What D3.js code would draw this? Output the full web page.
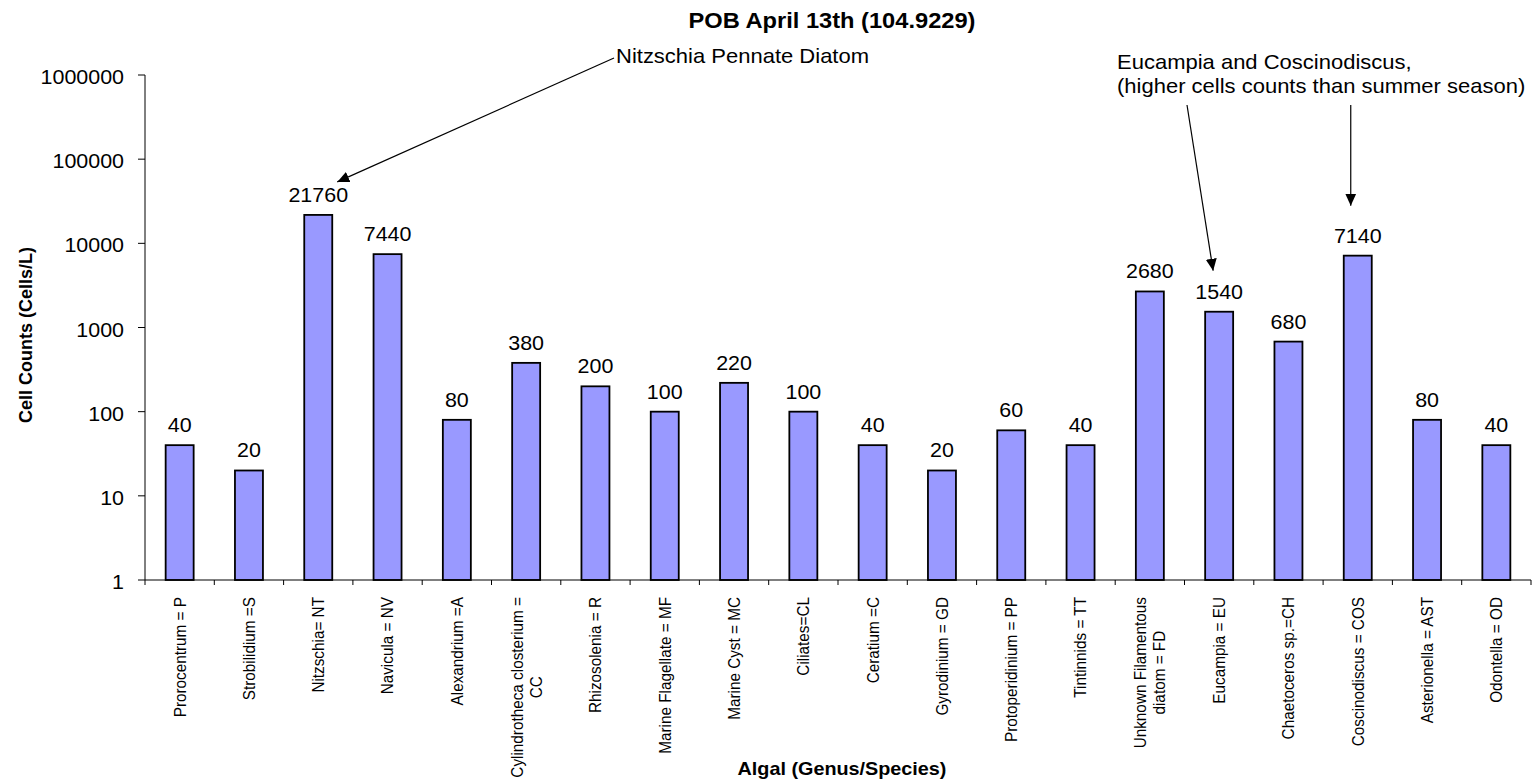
<!DOCTYPE html>
<html>
<head>
<meta charset="utf-8">
<script src="https://cdn.jsdelivr.net/npm/d3@7"></script>
<style>
  body { margin: 0; background: #fff; }
  text { font-family: Arial, "Liberation Sans", sans-serif; fill: #000; }
</style>
</head>
<body>
<div id="chart"></div>
<script>
// DATA ***********************************************
var categories = [
  ["Prorocentrum = P"], ["Strobilidium =S"], ["Nitzschia= NT"], ["Navicula = NV"],
  ["Alexandrium =A"], ["Cylindrotheca closterium =", "CC"], ["Rhizosolenia = R"],
  ["Marine Flagellate = MF"], ["Marine Cyst = MC"], ["Ciliates=CL"], ["Ceratium =C"],
  ["Gyrodinium = GD"], ["Protoperidinium = PP"], ["Tintinnids = TT"],
  ["Unknown Filamentous", "diatom = FD"], ["Eucampia = EU"], ["Chaetoceros sp.=CH"],
  ["Coscinodiscus = COS"], ["Asterionella = AST"], ["Odontella = OD"]
];
var cellCounts = [40, 20, 21760, 7440, 80, 380, 200, 100, 220, 100, 40, 20, 60, 40, 2680, 1540, 680, 7140, 80, 40];
var yTicks = [1, 10, 100, 1000, 10000, 100000, 1000000];
var title = "POB April 13th (104.9229)";
var yTitle = "Cell Counts (Cells/L)";
var xTitle = "Algal (Genus/Species)";
var noteNitzschia = "Nitzschia Pennate Diatom";
var noteEucampia = ["Eucampia and Coscinodiscus,", "(higher cells counts than summer season)"];

// SETUP ***********************************************
var width = 1532, height = 780;
var plotLeft = 145, plotRight = 1531, plotTop = 75, plotBottom = 580;
var sx = 1.1; // the original picture is a bit wider than tall

var svg = d3.select("#chart").append("svg")
  .attr("width", width)
  .attr("height", height);

var keys = categories.map(function (d, i) { return i; });

var slot = d3.scaleBand().domain(keys).range([plotLeft, plotRight]);
var x = d3.scaleBand().domain(keys).range([plotLeft, plotRight])
  .paddingInner(0.596).paddingOuter(0.298);
var y = d3.scaleLog().domain([1, 1000000]).range([plotBottom, plotTop]);

function cx(i) { return x(i) + x.bandwidth() / 2; }

// horizontal text with the slight stretch
function hText(g, tx, ty, str, size, anchor, weight) {
  return g.append("text")
    .attr("transform", "translate(" + tx + "," + ty + ") scale(" + sx + ",1)")
    .attr("text-anchor", anchor)
    .attr("font-size", size)
    .attr("font-weight", weight || "normal")
    .text(str);
}

// BARS ***********************************************
svg.append("g").selectAll("rect")
  .data(cellCounts)
  .enter().append("rect")
  .attr("x", function (d, i) { return x(i); })
  .attr("y", function (d) { return y(d); })
  .attr("width", x.bandwidth())
  .attr("height", function (d) { return y(1) - y(d); })
  .attr("fill", "#9999FF")
  .attr("stroke", "#000")
  .attr("stroke-width", 1.8);

// value labels
var vals = svg.append("g");
cellCounts.forEach(function (d, i) {
  hText(vals, cx(i), y(d) - 13, d, 19.5, "middle");
});

// AXES ***********************************************
var axisG = svg.append("g");
axisG.append("line")
  .attr("x1", plotLeft).attr("x2", plotLeft)
  .attr("y1", y(1000000)).attr("y2", y(1))
  .attr("stroke", "#000").attr("stroke-width", 1);
axisG.append("line")
  .attr("x1", plotLeft).attr("x2", plotRight)
  .attr("y1", y(1)).attr("y2", y(1))
  .attr("stroke", "#000").attr("stroke-width", 1);

yTicks.forEach(function (t) {
  axisG.append("line")
    .attr("x1", plotLeft - 7).attr("x2", plotLeft)
    .attr("y1", y(t)).attr("y2", y(t))
    .attr("stroke", "#000");
  hText(axisG, plotLeft - 21, y(t) + 9, d3.format("d")(t), 19.5, "end");
});

keys.concat([categories.length]).forEach(function (i) {
  var px = i < categories.length ? slot(i) : plotRight;
  axisG.append("line")
    .attr("x1", px).attr("x2", px)
    .attr("y1", y(1)).attr("y2", y(1) + 5)
    .attr("stroke", "#000");
});

// category labels, rotated
var catG = svg.append("g");
categories.forEach(function (lines, i) {
  var g = catG.append("g")
    .attr("transform", "translate(" + (slot(i) + slot.bandwidth() / 2) + "," + 597 + ") scale(" + sx + ",1) rotate(-90)");
  var texts = lines.map(function (s, k) {
    return g.append("text")
      .attr("font-size", 15.3)
      .attr("text-anchor", "middle")
      .attr("y", (k - (lines.length - 1) / 2) * 17.3)
      .attr("dy", "0.35em")
      .text(s);
  });
  var maxLen = d3.max(texts, function (t) { return t.node().getComputedTextLength(); });
  texts.forEach(function (t) { t.attr("x", -maxLen / 2); });
});

// TITLES ***********************************************
hText(svg, 832, 28, title, 21.5, "middle", "bold");
hText(svg, 842, 775, xTitle, 18, "middle", "bold");
svg.append("text")
  .attr("transform", "translate(32,335) rotate(-90)")
  .attr("text-anchor", "middle")
  .attr("font-size", 18)
  .attr("font-weight", "bold")
  .text(yTitle);

// ANNOTATIONS ***********************************************
svg.append("defs").append("marker")
  .attr("id", "arrow")
  .attr("markerUnits", "userSpaceOnUse")
  .attr("viewBox", "0 0 12 12")
  .attr("refX", 12).attr("refY", 6)
  .attr("markerWidth", 12).attr("markerHeight", 12)
  .attr("orient", "auto")
  .append("path")
  .attr("d", "M0,0.5 L12,6 L0,11.5 Z")
  .attr("fill", "#000");

var notes = svg.append("g");
hText(notes, 616, 63, noteNitzschia, 20, "start");
notes.append("line")
  .attr("x1", 614).attr("y1", 58)
  .attr("x2", cx(2) + 19).attr("y2", y(cellCounts[2]) - 33)
  .attr("stroke", "#000").attr("stroke-width", 1.2)
  .attr("marker-end", "url(#arrow)");

noteEucampia.forEach(function (s, k) {
  hText(notes, 1117, 69 + k * 24, s, 20, "start");
});
notes.append("line")
  .attr("x1", 1187).attr("y1", 105)
  .attr("x2", cx(15) - 6).attr("y2", y(cellCounts[15]) - 41)
  .attr("stroke", "#000").attr("stroke-width", 1.2)
  .attr("marker-end", "url(#arrow)");
notes.append("line")
  .attr("x1", cx(17) - 7).attr("y1", 105)
  .attr("x2", cx(17) - 7).attr("y2", y(cellCounts[17]) - 50)
  .attr("stroke", "#000").attr("stroke-width", 1.2)
  .attr("marker-end", "url(#arrow)");
</script>
</body>
</html>
